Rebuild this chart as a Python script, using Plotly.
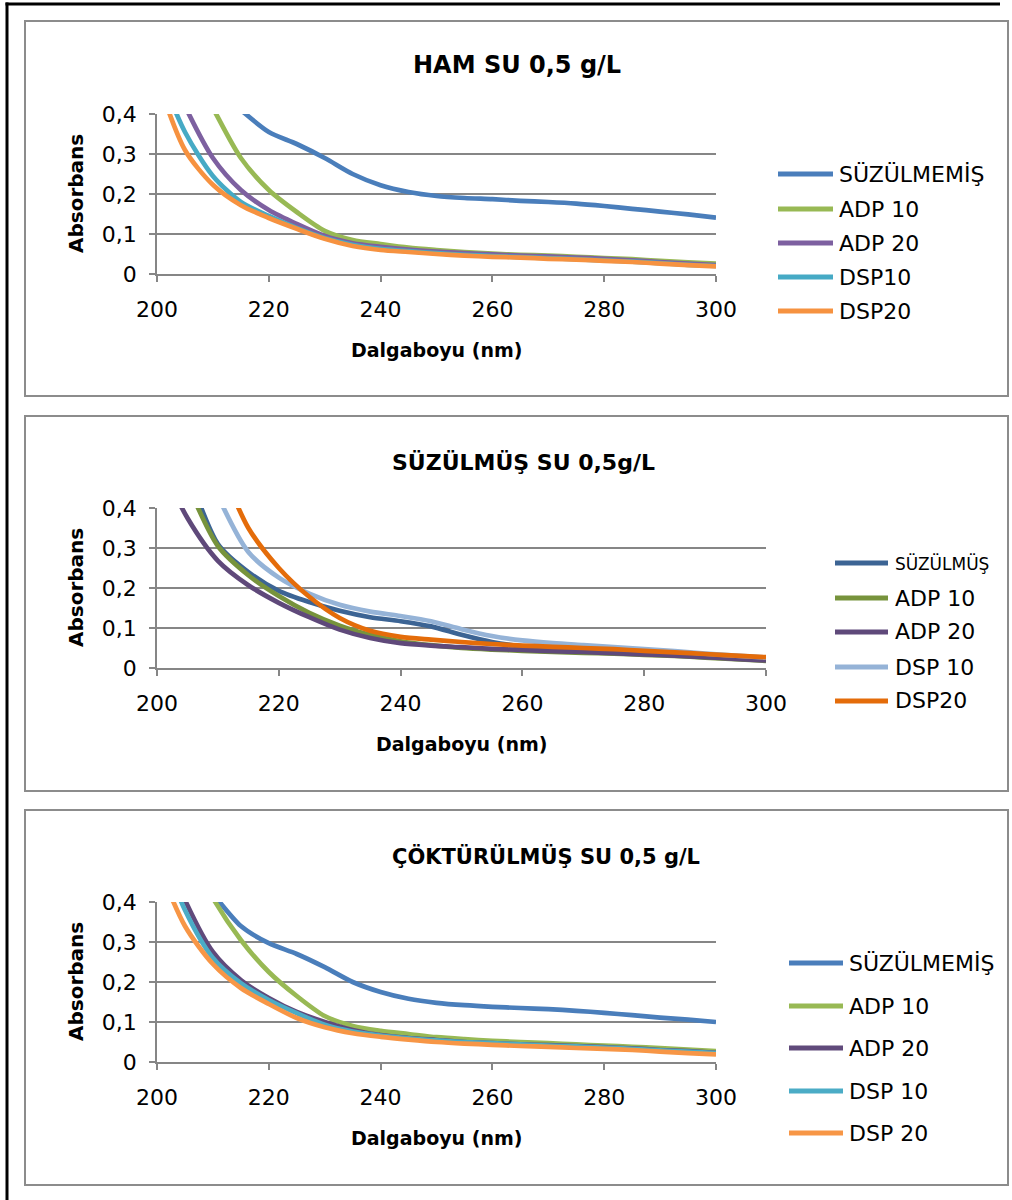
import plotly.graph_objects as go

W, H = 1012, 1200

# Wavelength grid (nm)
wavelength = list(range(200, 305, 5))

# --- HAM SU 0,5 g/L ---
ham_names = ["SÜZÜLMEMİŞ", "ADP 10", "ADP 20", "DSP10", "DSP20"]
ham_suzulmemis = [0.62, 0.54, 0.47, 0.41, 0.355, 0.325, 0.29, 0.25, 0.222, 0.205, 0.195,
                  0.19, 0.187, 0.183, 0.18, 0.176, 0.17, 0.163, 0.156, 0.149, 0.141]
ham_adp10 = [0.72, 0.55, 0.415, 0.29, 0.21, 0.155, 0.108, 0.085, 0.075, 0.066, 0.06,
             0.055, 0.051, 0.048, 0.046, 0.043, 0.04, 0.037, 0.033, 0.029, 0.026]
ham_adp20 = [0.58, 0.42, 0.29, 0.21, 0.16, 0.125, 0.095, 0.077, 0.068, 0.061, 0.056,
             0.052, 0.049, 0.046, 0.044, 0.041, 0.038, 0.034, 0.03, 0.026, 0.022]
ham_dsp10 = [0.52, 0.355, 0.245, 0.18, 0.145, 0.115, 0.09, 0.073, 0.063, 0.057, 0.052,
             0.048, 0.045, 0.042, 0.04, 0.037, 0.034, 0.031, 0.027, 0.023, 0.02]
ham_dsp20 = [0.49, 0.31, 0.223, 0.172, 0.14, 0.113, 0.088, 0.07, 0.06, 0.055, 0.05,
             0.046, 0.043, 0.041, 0.038, 0.036, 0.033, 0.03, 0.026, 0.022, 0.019]
ham_colors = ["#4A7EBB", "#98B954", "#7D60A0", "#46AAC5", "#F69240"]

# --- SÜZÜLMÜŞ SU 0,5g/L ---
suz_names = ["SÜZÜLMÜŞ", "ADP 10", "ADP 20", "DSP 10", "DSP20"]
suz_suzulmus = [0.68, 0.49, 0.31, 0.24, 0.193, 0.165, 0.143, 0.127, 0.117, 0.104, 0.083,
                0.065, 0.054, 0.048, 0.045, 0.042, 0.038, 0.034, 0.029, 0.024, 0.02]
suz_adp10 = [0.66, 0.46, 0.305, 0.232, 0.18, 0.138, 0.106, 0.083, 0.067, 0.057, 0.05,
             0.046, 0.043, 0.04, 0.038, 0.036, 0.033, 0.03, 0.026, 0.022, 0.018]
suz_adp20 = [0.53, 0.375, 0.268, 0.207, 0.163, 0.127, 0.096, 0.075, 0.062, 0.056, 0.052,
             0.048, 0.045, 0.042, 0.04, 0.037, 0.034, 0.031, 0.027, 0.023, 0.019]
suz_dsp10 = [0.84, 0.62, 0.43, 0.29, 0.226, 0.186, 0.158, 0.141, 0.13, 0.117, 0.097,
             0.08, 0.069, 0.062, 0.057, 0.052, 0.047, 0.042, 0.036, 0.031, 0.026]
suz_dsp20 = [0.9, 0.7, 0.52, 0.35, 0.25, 0.178, 0.125, 0.093, 0.078, 0.071, 0.065,
             0.06, 0.056, 0.053, 0.05, 0.047, 0.043, 0.039, 0.035, 0.031, 0.027]
suz_colors = ["#3C6494", "#77933C", "#5F497A", "#95B3D7", "#E46C0A"]

# --- ÇÖKTÜRÜLMÜŞ SU 0,5 g/L ---
cok_names = ["SÜZÜLMEMİŞ", "ADP 10", "ADP 20", "DSP 10", "DSP 20"]
cok_suzulmemis = [0.6, 0.5, 0.42, 0.34, 0.297, 0.27, 0.237, 0.2, 0.175, 0.158, 0.148,
                  0.142, 0.138, 0.135, 0.132, 0.128, 0.123, 0.117, 0.111, 0.106, 0.1]
cok_adp10 = [0.7, 0.55, 0.41, 0.305, 0.225, 0.165, 0.115, 0.09, 0.078, 0.07, 0.062,
             0.057, 0.053, 0.05, 0.047, 0.044, 0.041, 0.038, 0.035, 0.031, 0.027]
cok_adp20 = [0.58, 0.405, 0.275, 0.205, 0.16, 0.125, 0.1, 0.08, 0.067, 0.06, 0.055,
             0.05, 0.047, 0.044, 0.042, 0.04, 0.037, 0.034, 0.03, 0.027, 0.023]
cok_dsp10 = [0.56, 0.38, 0.26, 0.197, 0.155, 0.122, 0.093, 0.076, 0.066, 0.059, 0.054,
             0.05, 0.047, 0.044, 0.041, 0.039, 0.036, 0.033, 0.029, 0.026, 0.022]
cok_dsp20 = [0.5, 0.34, 0.245, 0.185, 0.145, 0.11, 0.087, 0.072, 0.063, 0.056, 0.05,
             0.046, 0.043, 0.04, 0.038, 0.035, 0.033, 0.03, 0.026, 0.022, 0.019]
cok_colors = ["#4A7EBB", "#98B954", "#604A7B", "#4BACC6", "#F79646"]

# Axis ticks
x_ticks = [200, 220, 240, 260, 280, 300]
y_ticks = [0, 0.1, 0.2, 0.3, 0.4]
y_tick_text = ["0", "0,1", "0,2", "0,3", "0,4"]

x_title = "Dalgaboyu (nm)"
y_title = "Absorbans"

FONT = "DejaVu Sans"
GRID = "#868686"


def px(x):
    return x / W


def py(y):
    return 1 - y / H


panels = [
    dict(title="HAM SU 0,5 g/L", names=ham_names, colors=ham_colors,
         series=[ham_suzulmemis, ham_adp10, ham_adp20, ham_dsp10, ham_dsp20],
         box=(25, 21, 1008, 396), plot=(157, 114, 716, 274),
         title_pos=(517, 65), title_size=24, xt_pos=(436, 350), yt_pos=(76, 194),
         leg_x=(778, 833, 837), leg_y=[174, 209, 243, 277, 311],
         leg_sizes=[22, 22, 22, 22, 22]),
    dict(title="SÜZÜLMÜŞ SU 0,5g/L", names=suz_names, colors=suz_colors,
         series=[suz_suzulmus, suz_adp10, suz_adp20, suz_dsp10, suz_dsp20],
         box=(25, 416, 1008, 791), plot=(157, 508, 766, 668),
         title_pos=(523, 462), title_size=22, xt_pos=(461, 744), yt_pos=(76, 588),
         leg_x=(835, 888, 893), leg_y=[563, 598, 632, 667, 701],
         leg_sizes=[17, 22, 22, 22, 22]),
    dict(title="ÇÖKTÜRÜLMÜŞ SU 0,5 g/L", names=cok_names, colors=cok_colors,
         series=[cok_suzulmemis, cok_adp10, cok_adp20, cok_dsp10, cok_dsp20],
         box=(25, 810, 1008, 1185), plot=(157, 902, 716, 1062),
         title_pos=(546, 856), title_size=21, xt_pos=(436, 1138), yt_pos=(76, 982),
         leg_x=(789, 843, 847), leg_y=[963, 1006, 1048, 1091, 1133],
         leg_sizes=[22, 22, 22, 22, 22]),
]

fig = go.Figure()
shapes = []
annotations = []

# Outer frame: solid bars along the left and top edges
shapes.append(dict(type="rect", xref="paper", yref="paper", x0=px(5.5), x1=px(8.5),
                   y0=0, y1=py(2.5), fillcolor="black", line=dict(width=0)))
shapes.append(dict(type="rect", xref="paper", yref="paper", x0=px(5.5), x1=px(1000),
                   y0=py(5.5), y1=py(2.5), fillcolor="black", line=dict(width=0)))

layout_axes = {}
for i, p in enumerate(panels):
    n = i + 1
    xa = "x" if n == 1 else f"x{n}"
    ya = "y" if n == 1 else f"y{n}"
    x0, y0, x1, y1 = p["plot"]

    for name, color, vals in zip(p["names"], p["colors"], p["series"]):
        fig.add_trace(go.Scatter(
            x=wavelength, y=vals, mode="lines", name=name, showlegend=False,
            line=dict(color=color, width=4.7, shape="spline", smoothing=0.8),
            xaxis=xa, yaxis=ya))

    layout_axes[f"xaxis{'' if n == 1 else n}"] = dict(
        domain=[px(x0), px(x1)], anchor=ya, range=[200, 300], automargin=False,
        tickvals=x_ticks, ticks="outside", ticklen=6, tickcolor=GRID, tickwidth=1.5,
        showline=True, linecolor=GRID, linewidth=1.5, showgrid=False, zeroline=False,
        tickfont=dict(family=FONT, size=22, color="black"), ticklabelstandoff=9)
    layout_axes[f"yaxis{'' if n == 1 else n}"] = dict(
        domain=[py(y1), py(y0)], anchor=xa, range=[0, 0.4], automargin=False,
        tickvals=y_ticks, ticktext=y_tick_text, ticks="outside", ticklen=6,
        tickcolor=GRID, tickwidth=1.5,
        showline=True, linecolor=GRID, linewidth=1.5, showgrid=True, gridcolor=GRID,
        gridwidth=1.5, zeroline=False,
        tickfont=dict(family=FONT, size=22, color="black"), ticklabelstandoff=8)

    # Chart area border
    bx0, by0, bx1, by1 = p["box"]
    shapes.append(dict(type="rect", xref="paper", yref="paper",
                       x0=px(bx0), x1=px(bx1), y0=py(by1), y1=py(by0),
                       line=dict(color="#8C8C8C", width=2)))

    # Titles
    tx, ty = p["title_pos"]
    annotations.append(dict(text=f"<b>{p['title']}</b>", xref="paper", yref="paper",
                            x=px(tx), y=py(ty), showarrow=False, xanchor="center",
                            yanchor="middle",
                            font=dict(family=FONT, size=p["title_size"], color="black")))
    ax_, ay_ = p["xt_pos"]
    annotations.append(dict(text=f"<b>{x_title}</b>", xref="paper", yref="paper",
                            x=px(ax_), y=py(ay_), showarrow=False, xanchor="center",
                            yanchor="middle", font=dict(family=FONT, size=19, color="black")))
    bx_, by_ = p["yt_pos"]
    annotations.append(dict(text=f"<b>{y_title}</b>", xref="paper", yref="paper",
                            x=px(bx_), y=py(by_), showarrow=False, textangle=-90,
                            xanchor="center", yanchor="middle",
                            font=dict(family=FONT, size=20, color="black")))

    # Legend keys
    lx0, lx1, ltx = p["leg_x"]
    for name, color, ly, fs in zip(p["names"], p["colors"], p["leg_y"], p["leg_sizes"]):
        shapes.append(dict(type="line", xref="paper", yref="paper",
                           x0=px(lx0), x1=px(lx1), y0=py(ly), y1=py(ly),
                           line=dict(color=color, width=5)))
        annotations.append(dict(text=name, xref="paper", yref="paper",
                                x=px(ltx), y=py(ly), showarrow=False, xanchor="left",
                                yanchor="middle",
                                font=dict(family=FONT, size=fs, color="black")))

fig.update_layout(
    width=W, height=H, autosize=False,
    margin=dict(l=0, r=0, t=0, b=0, pad=0, autoexpand=False),
    paper_bgcolor="white", plot_bgcolor="white",
    shapes=shapes, annotations=annotations, showlegend=False,
    **layout_axes)

fig.write_html("out.html", post_script="document.body.style.margin='0';")
